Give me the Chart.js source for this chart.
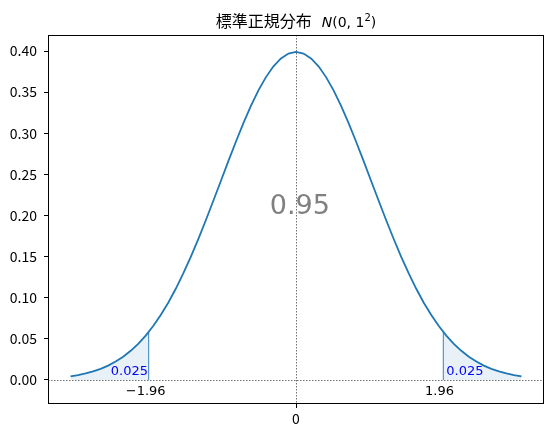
<!DOCTYPE html>
<html>
<head>
<meta charset="utf-8">
<script src="https://cdn.jsdelivr.net/npm/chart.js@4"></script>
<style>
  html, body { margin: 0; padding: 0; background: #fff; }
  #wrap { width: 553px; height: 437px; }
</style>
</head>
<body>
<div id="wrap"><canvas id="normChart" width="553" height="437"></canvas></div>
<script>
// curve
const xs = [-3.0, -2.9, -2.8, -2.7, -2.6, -2.5, -2.4, -2.3, -2.2, -2.1, -2.0,
  -1.9, -1.8, -1.7, -1.6, -1.5, -1.4, -1.3, -1.2, -1.1, -1.0,
  -0.9, -0.8, -0.7, -0.6, -0.5, -0.4, -0.3, -0.2, -0.1, 0.0,
  0.1, 0.2, 0.3, 0.4, 0.5, 0.6, 0.7, 0.8, 0.9, 1.0,
  1.1, 1.2, 1.3, 1.4, 1.5, 1.6, 1.7, 1.8, 1.9, 2.0,
  2.1, 2.2, 2.3, 2.4, 2.5, 2.6, 2.7, 2.8, 2.9, 3.0];
const ys = [0.0044, 0.0060, 0.0079, 0.0104, 0.0136, 0.0175, 0.0224, 0.0283, 0.0355, 0.0440, 0.0540,
  0.0656, 0.0790, 0.0940, 0.1109, 0.1295, 0.1497, 0.1714, 0.1942, 0.2179, 0.2420,
  0.2661, 0.2897, 0.3123, 0.3332, 0.3521, 0.3683, 0.3814, 0.3910, 0.3970, 0.3989,
  0.3970, 0.3910, 0.3814, 0.3683, 0.3521, 0.3332, 0.3123, 0.2897, 0.2661, 0.2420,
  0.2179, 0.1942, 0.1714, 0.1497, 0.1295, 0.1109, 0.0940, 0.0790, 0.0656, 0.0540,
  0.0440, 0.0355, 0.0283, 0.0224, 0.0175, 0.0136, 0.0104, 0.0079, 0.0060, 0.0044];

// shaded tails
const leftTailX = [-3.0, -2.9, -2.8, -2.7, -2.6, -2.5, -2.4, -2.3, -2.2, -2.1, -2.0, -1.96];
const leftTailY = [0.0044, 0.0060, 0.0079, 0.0104, 0.0136, 0.0175, 0.0224, 0.0283, 0.0355, 0.0440, 0.0540, 0.0584];
const rightTailX = [1.96, 2.0, 2.1, 2.2, 2.3, 2.4, 2.5, 2.6, 2.7, 2.8, 2.9, 3.0];
const rightTailY = [0.0584, 0.0540, 0.0440, 0.0355, 0.0283, 0.0224, 0.0175, 0.0136, 0.0104, 0.0079, 0.0060, 0.0044];

// edges of the tails
const cutX = [-1.96, 1.96];
const cutY = [0.0584, 0.0584];

// ticks
const xTicks = [0];
const yTicks = [0.00, 0.05, 0.10, 0.15, 0.20, 0.25, 0.30, 0.35, 0.40];

// text notes: [text, x, y, align, colour, size]
const notes = [
  ["\u22121.96", -2.0, -0.0146, "center", "#000000", 13],
  ["1.96", 1.91, -0.0146, "center", "#000000", 13],
  ["0.025", -1.97, 0.0097, "right", "#0000ff", 13],
  ["0.025", 2.0, 0.0097, "left", "#0000ff", 13],
  ["0.95", 0.05, 0.21, "center", "#808080", 27],
];

function tailPoints(tx, ty) {
  const pts = [{ x: tx[0], y: 0 }];
  tx.forEach((x, i) => pts.push({ x: x, y: ty[i] }));
  pts.push({ x: tx[tx.length - 1], y: 0 });
  return pts;
}

const annotatePlugin = {
  id: "annotate",
  beforeDatasetsDraw(chart) {
    const { ctx, chartArea, scales } = chart;
    const x0 = Math.round(scales.x.getPixelForValue(0)) + 0.5;
    const y0 = Math.round(scales.y.getPixelForValue(0)) + 0.5;
    ctx.save();
    ctx.strokeStyle = "#333333";
    ctx.lineWidth = 0.7;
    ctx.setLineDash([1.5, 1.5]);
    ctx.beginPath();
    ctx.moveTo(x0, chartArea.top);
    ctx.lineTo(x0, chartArea.bottom);
    ctx.moveTo(chartArea.left, y0);
    ctx.lineTo(chartArea.right, y0);
    ctx.stroke();
    ctx.restore();
  },
  afterDraw(chart) {
    const { ctx, chartArea, scales } = chart;
    ctx.save();

    // frame
    ctx.strokeStyle = "#000";
    ctx.lineWidth = 1;
    ctx.strokeRect(
      Math.round(chartArea.left) + 0.5,
      Math.round(chartArea.top) + 0.5,
      Math.round(chartArea.right - chartArea.left) - 1,
      Math.round(chartArea.bottom - chartArea.top) - 1
    );

    // notes
    ctx.textBaseline = "middle";
    notes.forEach((n) => {
      ctx.font = `${n[5]}px "DejaVu Sans"`;
      ctx.fillStyle = n[4];
      ctx.textAlign = n[3];
      ctx.fillText(n[0], scales.x.getPixelForValue(n[1]), scales.y.getPixelForValue(n[2]));
    });

    // title
    const parts = [
      ["標準正規分布", '16px "Noto Sans CJK JP"', 0, 10],
      ["N", 'italic 14px "DejaVu Sans"', 0, 0],
      ["(0, 1", '14px "DejaVu Sans"', 0, 0],
      ["2", '10px "DejaVu Sans"', -6, 0],
      [")", '14px "DejaVu Sans"', 0, 0],
    ];
    let total = 0;
    parts.forEach((p) => {
      ctx.font = p[1];
      p.push(ctx.measureText(p[0]).width);
      total += p[4] + p[3];
    });
    let tx = (chartArea.left + chartArea.right) / 2 - total / 2;
    ctx.fillStyle = "#000";
    ctx.textAlign = "left";
    ctx.textBaseline = "alphabetic";
    parts.forEach((p) => {
      ctx.font = p[1];
      ctx.fillText(p[0], tx, 27 + p[2]);
      tx += p[4] + p[3];
    });
    ctx.restore();
  },
};

const tailStyle = {
  showLine: true,
  fill: "origin",
  backgroundColor: "rgba(31, 119, 180, 0.1)",
  borderWidth: 0,
  borderColor: "rgba(0,0,0,0)",
  pointRadius: 0,
  tension: 0,
};

const ctx = document.getElementById("normChart").getContext("2d");
new Chart(ctx, {
  type: "scatter",
  data: {
    datasets: [
      Object.assign({ data: tailPoints(leftTailX, leftTailY) }, tailStyle),
      Object.assign({ data: tailPoints(rightTailX, rightTailY) }, tailStyle),
      ...cutX.map((x, i) => ({
        data: [{ x: x, y: 0 }, { x: x, y: cutY[i] }],
        showLine: true,
        fill: false,
        borderColor: "#1f77b4",
        borderWidth: 0.9,
        pointRadius: 0,
      })),
      {
        data: xs.map((x, i) => ({ x: x, y: ys[i] })),
        showLine: true,
        fill: false,
        borderColor: "#1f77b4",
        borderWidth: 1.8,
        pointRadius: 0,
        tension: 0,
      },
    ],
  },
  options: {
    responsive: false,
    animation: false,
    layout: { padding: { top: 35, right: 9, left: 0, bottom: 0 } },
    plugins: {
      legend: { display: false },
      tooltip: { enabled: false },
    },
    scales: {
      x: {
        type: "linear",
        min: -3.3,
        max: 3.3,
        afterBuildTicks: (scale) => {
          scale.ticks = xTicks.map((v) => ({ value: v }));
        },
        afterFit: (scale) => {
          scale.height = 33;
        },
        grid: { drawOnChartArea: false, drawTicks: true, tickLength: 4, color: "#000" },
        border: { display: false },
        ticks: {
          color: "#000",
          padding: 2,
          maxRotation: 0,
          font: { family: "Noto Sans CJK JP", size: 14 },
          callback: (v) => String(v),
        },
      },
      y: {
        type: "linear",
        min: -0.0292,
        max: 0.4195,
        afterBuildTicks: (scale) => {
          scale.ticks = yTicks.map((v) => ({ value: v }));
        },
        afterFit: (scale) => {
          scale.width = 48;
        },
        grid: { drawOnChartArea: false, drawTicks: true, tickLength: 4, color: "#000" },
        border: { display: false },
        ticks: {
          color: "#000",
          padding: 7,
          font: { family: "Noto Sans CJK JP", size: 14 },
          callback: (v) => Number(v).toFixed(2),
        },
      },
    },
  },
  plugins: [annotatePlugin],
});
</script>
</body>
</html>
